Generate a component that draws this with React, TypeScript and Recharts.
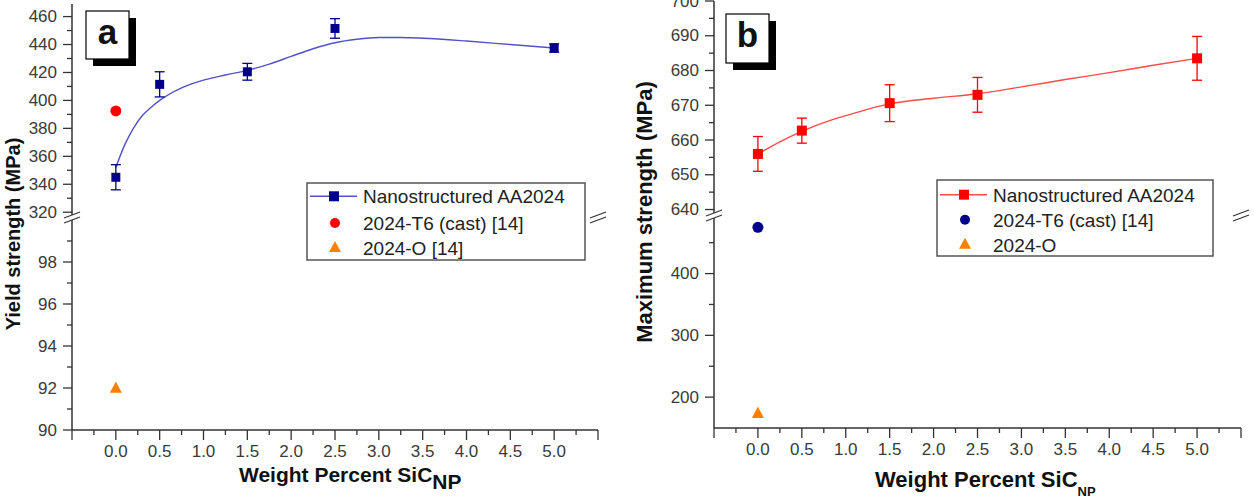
import React from 'react';
import { ComposedChart, XAxis, YAxis, Line, Scatter, ErrorBar } from 'recharts';

const FONT = '"Liberation Sans", Arial, sans-serif';
const AXIS = '#333';
const NAVY = '#00008B';
const RED = '#ff0000';
const ORANGE = '#ff8000';

// sample positions, wt.% SiC nanoparticles
const wtPct = [0, 0.5, 1.5, 2.5, 5.0];

// panel a: yield strength (MPa)
const yieldNano = [345, 411.5, 420.5, 451.5, 437.5];
const yieldNanoErr = [9, 9, 6, 7, 3];
const yieldT6 = 392.5;
const yieldO = 92;
const yieldFitX = [0, 0.1, 0.2, 0.3, 0.4, 0.5, 0.75, 1.0, 1.25, 1.5, 1.75, 2.0, 2.25, 2.5, 2.75, 3.0, 3.25, 3.5, 4.0, 4.5, 5.0];
const yieldFitY = [352, 368, 380, 389, 395, 400, 409, 414.5, 418.2, 421.5, 426, 431.5, 437, 441.3, 443.8, 445, 445, 444.5, 442.5, 440, 437.5];

// panel b: maximum strength (MPa)
const maxNano = [656, 662.7, 670.6, 673, 683.5];
const maxNanoErr = [5, 3.6, 5.3, 5, 6.3];
const maxT6 = 475;
const maxO = 174;
const maxFitX = [0, 0.25, 0.5, 0.75, 1.0, 1.5, 2.0, 2.5, 3.0, 3.5, 4.0, 4.5, 5.0];
const maxFitY = [656, 659.5, 662.5, 665, 667, 670.4, 672, 673.3, 675.3, 677.4, 679.4, 681.5, 683.5];

// ticks
const xTicks = [-0.5, -0.25, 0, 0.25, 0.5, 0.75, 1, 1.25, 1.5, 1.75, 2, 2.25, 2.5, 2.75, 3, 3.25, 3.5, 3.75, 4, 4.25, 4.5, 4.75, 5, 5.25, 5.5];
const xMajor = [-0.5, 0, 0.5, 1, 1.5, 2, 2.5, 3, 3.5, 4, 4.5, 5, 5.5];
const xLabels = [0, 0.5, 1, 1.5, 2, 2.5, 3, 3.5, 4, 4.5, 5];
const yieldUpperTicks = [320, 330, 340, 350, 360, 370, 380, 390, 400, 410, 420, 430, 440, 450, 460];
const yieldUpperLabels = [320, 340, 360, 380, 400, 420, 440, 460];
const yieldLowerTicks = [90, 91, 92, 93, 94, 95, 96, 97, 98, 99];
const yieldLowerLabels = [90, 92, 94, 96, 98];
const maxUpperTicks = [640, 645, 650, 655, 660, 665, 670, 675, 680, 685, 690, 695, 700];
const maxUpperLabels = [640, 650, 660, 670, 680, 690, 700];
const maxLowerTicks = [200, 250, 300, 350, 400, 450];
const maxLowerLabels = [200, 300, 400];

const pts = (xs: number[], ys: number[], err?: number[]) =>
  xs.map((x, i) => ({ x, y: ys[i], err: err ? err[i] : 0 }));

const yieldNanoPts = pts(wtPct, yieldNano, yieldNanoErr);
const yieldFit = pts(yieldFitX, yieldFitY);
const maxNanoPts = pts(wtPct, maxNano, maxNanoErr);
const maxFit = pts(maxFitX, maxFitY);

const YW = 80;
const TM = 12;
const RM = 12;
const XH = 40;

const XTick = (p: any) => {
  const { x, y, payload } = p;
  const v = payload.value;
  const major = xMajor.includes(v);
  return (
    <g>
      <line x1={x} x2={x} y1={y} y2={y + (major ? 10 : 5)} stroke={AXIS} strokeWidth={1.3} />
      {xLabels.includes(v) && (
        <text x={x} y={y + 21} textAnchor="middle" dominantBaseline="central" fontSize={17} fill="#3a3a3a" fontFamily={FONT}>
          {v.toFixed(1)}
        </text>
      )}
    </g>
  );
};

const makeYTick = (labels: number[]) => (p: any) => {
  const { x, y, payload } = p;
  const major = labels.includes(payload.value);
  return (
    <g>
      <line x1={x - (major ? 9 : 5)} x2={x} y1={y} y2={y} stroke={AXIS} strokeWidth={1.3} />
      {major && (
        <text x={x - 15} y={y} textAnchor="end" dominantBaseline="central" fontSize={17} fill="#3a3a3a" fontFamily={FONT}>
          {payload.value}
        </text>
      )}
    </g>
  );
};

const square = (s: number, c: string) => (p: any) => (
  <rect x={p.cx - s / 2} y={p.cy - s / 2} width={s} height={s} fill={c} />
);
const circle = (r: number, c: string) => (p: any) => <circle cx={p.cx} cy={p.cy} r={r} fill={c} />;
const triangle = (s: number, c: string) => (p: any) => (
  <polygon points={`${p.cx},${p.cy - s * 0.55} ${p.cx - s / 2},${p.cy + s * 0.4} ${p.cx + s / 2},${p.cy + s * 0.4}`} fill={c} />
);

interface SegProps {
  left: number;
  top: number;
  width: number;
  height: number;
  domain: [number, number];
  yTicks: number[];
  yLabels: number[];
  bottom: boolean;
  children: React.ReactNode;
}

function Segment({ left, top, width, height, domain, yTicks, yLabels, bottom, children }: SegProps) {
  const B = bottom ? XH : 10;
  const axisLine = { stroke: AXIS, strokeWidth: 1.5 };
  return (
    <div style={{ position: 'absolute', left: left - YW, top: top - TM }}>
      <ComposedChart
        width={YW + width + RM}
        height={TM + height + B}
        margin={{ top: TM, right: RM, left: 0, bottom: bottom ? 0 : B }}
      >
        {bottom ? (
          <XAxis
            dataKey="x"
            type="number"
            domain={[-0.5, 5.5]}
            allowDataOverflow
            ticks={xTicks}
            interval={0}
            tick={XTick}
            tickLine={false}
            tickSize={0}
            tickMargin={0}
            height={XH}
            axisLine={axisLine}
          />
        ) : (
          <XAxis
            dataKey="x"
            type="number"
            orientation="top"
            domain={[-0.5, 5.5]}
            allowDataOverflow
            tick={false}
            tickLine={false}
            height={0}
            axisLine={axisLine}
          />
        )}
        <YAxis
          dataKey="y"
          type="number"
          domain={domain}
          allowDataOverflow
          width={YW}
          ticks={yTicks}
          interval={0}
          tick={makeYTick(yLabels)}
          tickLine={false}
          tickSize={0}
          tickMargin={0}
          axisLine={axisLine}
        />
        <YAxis
          yAxisId="r"
          orientation="right"
          type="number"
          domain={domain}
          allowDataOverflow
          width={0}
          tick={false}
          tickLine={false}
          axisLine={axisLine}
        />
        {children}
      </ComposedChart>
    </div>
  );
}

const BreakMarks = ({ x, y }: { x: number; y: number }) => (
  <g stroke={AXIS} strokeWidth={1.3}>
    <line x1={x - 8} y1={y + 1} x2={x + 8} y2={y - 5} />
    <line x1={x - 8} y1={y + 6} x2={x + 8} y2={y} />
  </g>
);

const LetterBox = ({ x, y, w, h, letter }: { x: number; y: number; w: number; h: number; letter: string }) => (
  <g>
    <rect x={x + 7} y={y + 7} width={w} height={h} fill="#000" />
    <rect x={x} y={y} width={w} height={h} fill="#fff" stroke="#000" strokeWidth={1.2} />
    <text x={x + w / 2} y={y + 33} textAnchor="middle" fontSize={35} fontWeight="bold" fontFamily={FONT} fill="#111">
      {letter}
    </text>
  </g>
);

interface LegendProps {
  x: number;
  y: number;
  w: number;
  h: number;
  base: number[];
  line: string;
  sq: string;
  dot: string;
  labels: string[];
}

const LegendBox = ({ x, y, w, h, base, line, sq, dot, labels }: LegendProps) => (
  <g fontFamily={FONT} fontSize={19} fill="#222">
    <rect x={x} y={y} width={w} height={h} fill="#fff" stroke="#555" strokeWidth={1.5} />
    <line x1={x + 3} x2={x + 50} y1={y + base[0] - 7} y2={y + base[0] - 7} stroke={line} strokeWidth={1.5} />
    <rect x={x + 22} y={y + base[0] - 12} width={10} height={10} fill={sq} />
    <circle cx={x + 28} cy={y + base[1] - 7} r={5} fill={dot} />
    <polygon
      points={`${x + 28},${y + base[2] - 14} ${x + 22},${y + base[2] - 3} ${x + 34},${y + base[2] - 3}`}
      fill={ORANGE}
    />
    {labels.map((t, i) => (
      <text key={t} x={x + 56} y={y + base[i]}>
        {t}
      </text>
    ))}
  </g>
);

export default function App() {
  return (
    <div style={{ position: 'absolute', left: 0, top: 0, width: 1254, height: 498, background: '#fff', overflow: 'hidden' }}>
      {/* panel a, upper part */}
      <Segment left={72} top={4} width={526} height={211} domain={[318, 469]} yTicks={yieldUpperTicks} yLabels={yieldUpperLabels} bottom={false}>
        <Line data={yieldFit} dataKey="y" type="monotone" stroke="#5252c8" strokeWidth={1.4} dot={false} isAnimationActive={false} />
        <Scatter data={yieldNanoPts} dataKey="y" shape={square(9, NAVY)} isAnimationActive={false}>
          <ErrorBar dataKey="err" direction="y" width={5} stroke={NAVY} strokeWidth={1.3} />
        </Scatter>
        <Scatter data={[{ x: 0, y: yieldT6 }]} dataKey="y" shape={circle(5.5, RED)} isAnimationActive={false} />
      </Segment>
      {/* panel a, lower part */}
      <Segment left={72} top={220} width={526} height={210} domain={[90, 100]} yTicks={yieldLowerTicks} yLabels={yieldLowerLabels} bottom>
        <Scatter data={[{ x: 0, y: yieldO }]} dataKey="y" shape={triangle(12, ORANGE)} isAnimationActive={false} />
      </Segment>
      {/* panel b, upper part */}
      <Segment left={714} top={1} width={527} height={212} domain={[639, 700]} yTicks={maxUpperTicks} yLabels={maxUpperLabels} bottom={false}>
        <Line data={maxFit} dataKey="y" type="monotone" stroke="#ff4a4a" strokeWidth={1.4} dot={false} isAnimationActive={false} />
        <Scatter data={maxNanoPts} dataKey="y" shape={square(10, RED)} isAnimationActive={false}>
          <ErrorBar dataKey="err" direction="y" width={5} stroke={RED} strokeWidth={1.3} />
        </Scatter>
      </Segment>
      {/* panel b, lower part */}
      <Segment left={714} top={218} width={527} height={210} domain={[150, 490]} yTicks={maxLowerTicks} yLabels={maxLowerLabels} bottom>
        <Scatter data={[{ x: 0, y: maxT6 }]} dataKey="y" shape={circle(5.5, NAVY)} isAnimationActive={false} />
        <Scatter data={[{ x: 0, y: maxO }]} dataKey="y" shape={triangle(12, ORANGE)} isAnimationActive={false} />
      </Segment>

      <svg width={1254} height={498} style={{ position: 'absolute', left: 0, top: 0, pointerEvents: 'none' }}>
        <BreakMarks x={72} y={217} />
        <BreakMarks x={598} y={217} />
        <BreakMarks x={714} y={215} />
        <BreakMarks x={1241} y={215} />

        <LetterBox x={86} y={11} w={43} h={48} letter="a" />
        <LetterBox x={726} y={14} w={43} h={49} letter="b" />

        <LegendBox
          x={307}
          y={183}
          w={278}
          h={77}
          base={[20.3, 47, 72]}
          line="#5252c8"
          sq={NAVY}
          dot={RED}
          labels={['Nanostructured AA2024', '2024-T6 (cast) [14]', '2024-O [14]']}
        />
        <LegendBox
          x={937}
          y={180}
          w={276}
          h={76}
          base={[21.7, 46.7, 71.7]}
          line="#ff4a4a"
          sq={RED}
          dot={NAVY}
          labels={['Nanostructured AA2024', '2024-T6 (cast) [14]', '2024-O']}
        />

        <g fontFamily={FONT} fontWeight="bold" fill="#111">
          <text x={239} y={482} fontSize={21}>
            Weight Percent SiC<tspan dy={7}>NP</tspan>
          </text>
          <text x={875} y={487} fontSize={22}>
            Weight Percent SiC<tspan dy={9} fontSize={13}>NP</tspan>
          </text>
          <text transform="translate(20, 234) rotate(-90)" textAnchor="middle" fontSize={20}>
            Yield strength (MPa)
          </text>
          <text transform="translate(652, 212) rotate(-90)" textAnchor="middle" fontSize={22}>
            Maximum strength (MPa)
          </text>
        </g>
      </svg>
    </div>
  );
}
